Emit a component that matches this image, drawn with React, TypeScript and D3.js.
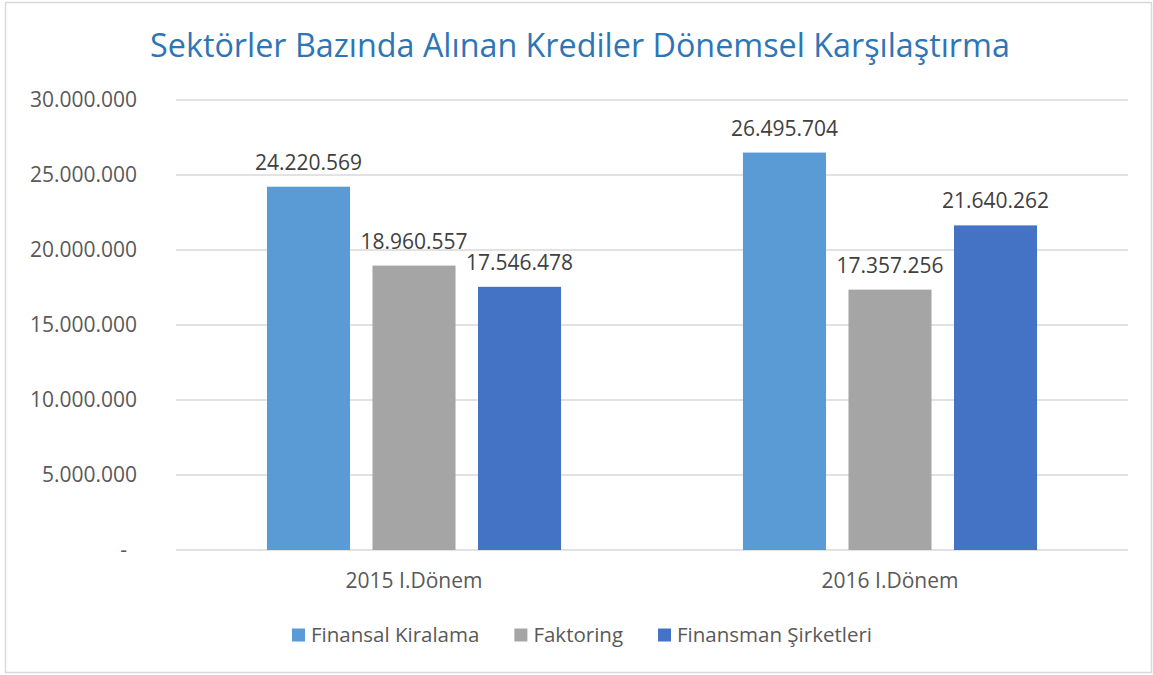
import * as React from "react"
import * as d3 from "d3"

const WIDTH = 1153
const HEIGHT = 675

const categories = ["2015 I.Dönem", "2016 I.Dönem"]
const series = ["Finansal Kiralama", "Faktoring", "Finansman Şirketleri"]
const colors = ["#5B9BD5", "#A5A5A5", "#4472C4"]
const values2015 = [24220569, 18960557, 17546478]
const values2016 = [26495704, 17357256, 21640262]
const yTicks = [0, 5000000, 10000000, 15000000, 20000000, 25000000, 30000000]

const FONT = "'Open Sans', sans-serif"

const trFormat = d3.formatLocale({
  decimal: ",",
  thousands: ".",
  grouping: [3],
  currency: ["", ""],
}).format(",d")

function measure(text: string, font: string) {
  const ctx = document.createElement("canvas").getContext("2d")
  if (!ctx) return text.length * 9
  ctx.font = font
  return ctx.measureText(text).width
}

export default function App() {
  const margin = { left: 176, right: 25, top: 100, bottom: 125 }
  const rows = [values2015, values2016]

  const x0 = d3
    .scaleBand()
    .domain(categories)
    .range([margin.left, WIDTH - margin.right])

  const x1 = d3
    .scaleBand()
    .domain(series)
    .range([0, x0.bandwidth()])
    .paddingInner(0.213)
    .paddingOuter(0.862)

  const y = d3
    .scaleLinear()
    .domain([0, 30000000])
    .range([HEIGHT - margin.bottom, margin.top])

  // legend items laid out one after the other
  const legendSize = 20.5
  const legendFont = `${legendSize}px ${FONT}`
  const sw = 13
  const textW = series.map(s => measure(s, legendFont))
  const gap = 35
  let lx = 292
  const legendX = textW.map(w => {
    const pos = lx
    lx += sw + 6 + w + gap
    return pos
  })

  return (
    <svg width={WIDTH} height={HEIGHT} style={{ position: "absolute", left: 0, top: 0 }}>
      <rect x={0} y={0} width={WIDTH} height={HEIGHT} fill="#fff" />
      <rect x={5.5} y={2.5} width={WIDTH - 7} height={HEIGHT - 5} fill="none" stroke="#d9d9d9" strokeWidth={1.5} />

      <text
        x={580}
        y={57}
        textAnchor="middle"
        fontFamily={FONT}
        fontSize={32.3}
        fill="#2E75B6"
      >
        Sektörler Bazında Alınan Krediler Dönemsel Karşılaştırma
      </text>

      {yTicks.map(t => (
        <g key={t}>
          <line
            x1={margin.left}
            x2={WIDTH - margin.right}
            y1={y(t)}
            y2={y(t)}
            stroke="#d9d9d9"
            strokeWidth={1.5}
          />
          <text
            x={t === 0 ? 127 : 137}
            y={y(t)}
            dy="0.35em"
            textAnchor="end"
            fontFamily={FONT}
            fontSize={21}
            fill="#595959"
          >
            {t === 0 ? "-" : trFormat(t)}
          </text>
        </g>
      ))}

      {categories.map((c, ci) => (
        <g key={c} transform={`translate(${x0(c)},0)`}>
          {series.map((s, si) => {
            const v = rows[ci][si]
            const bx = x1(s) as number
            return (
              <g key={s}>
                <rect
                  x={bx}
                  y={y(v)}
                  width={x1.bandwidth()}
                  height={y(0) - y(v)}
                  fill={colors[si]}
                />
                <text
                  x={bx + x1.bandwidth() / 2}
                  y={y(v) - 17}
                  textAnchor="middle"
                  fontFamily={FONT}
                  fontSize={21}
                  fill="#404040"
                >
                  {trFormat(v)}
                </text>
              </g>
            )
          })}
          <text
            x={x0.bandwidth() / 2}
            y={y(0) + 38}
            textAnchor="middle"
            fontFamily={FONT}
            fontSize={21}
            fill="#595959"
          >
            {c}
          </text>
        </g>
      ))}

      {series.map((s, i) => (
        <g key={s} transform={`translate(${legendX[i]},635)`}>
          <rect x={0} y={-6.5} width={sw} height={sw} fill={colors[i]} />
          <text
            x={sw + 6}
            dy="0.36em"
            fontFamily={FONT}
            fontSize={legendSize}
            fill="#595959"
          >
            {s}
          </text>
        </g>
      ))}
    </svg>
  )
}
